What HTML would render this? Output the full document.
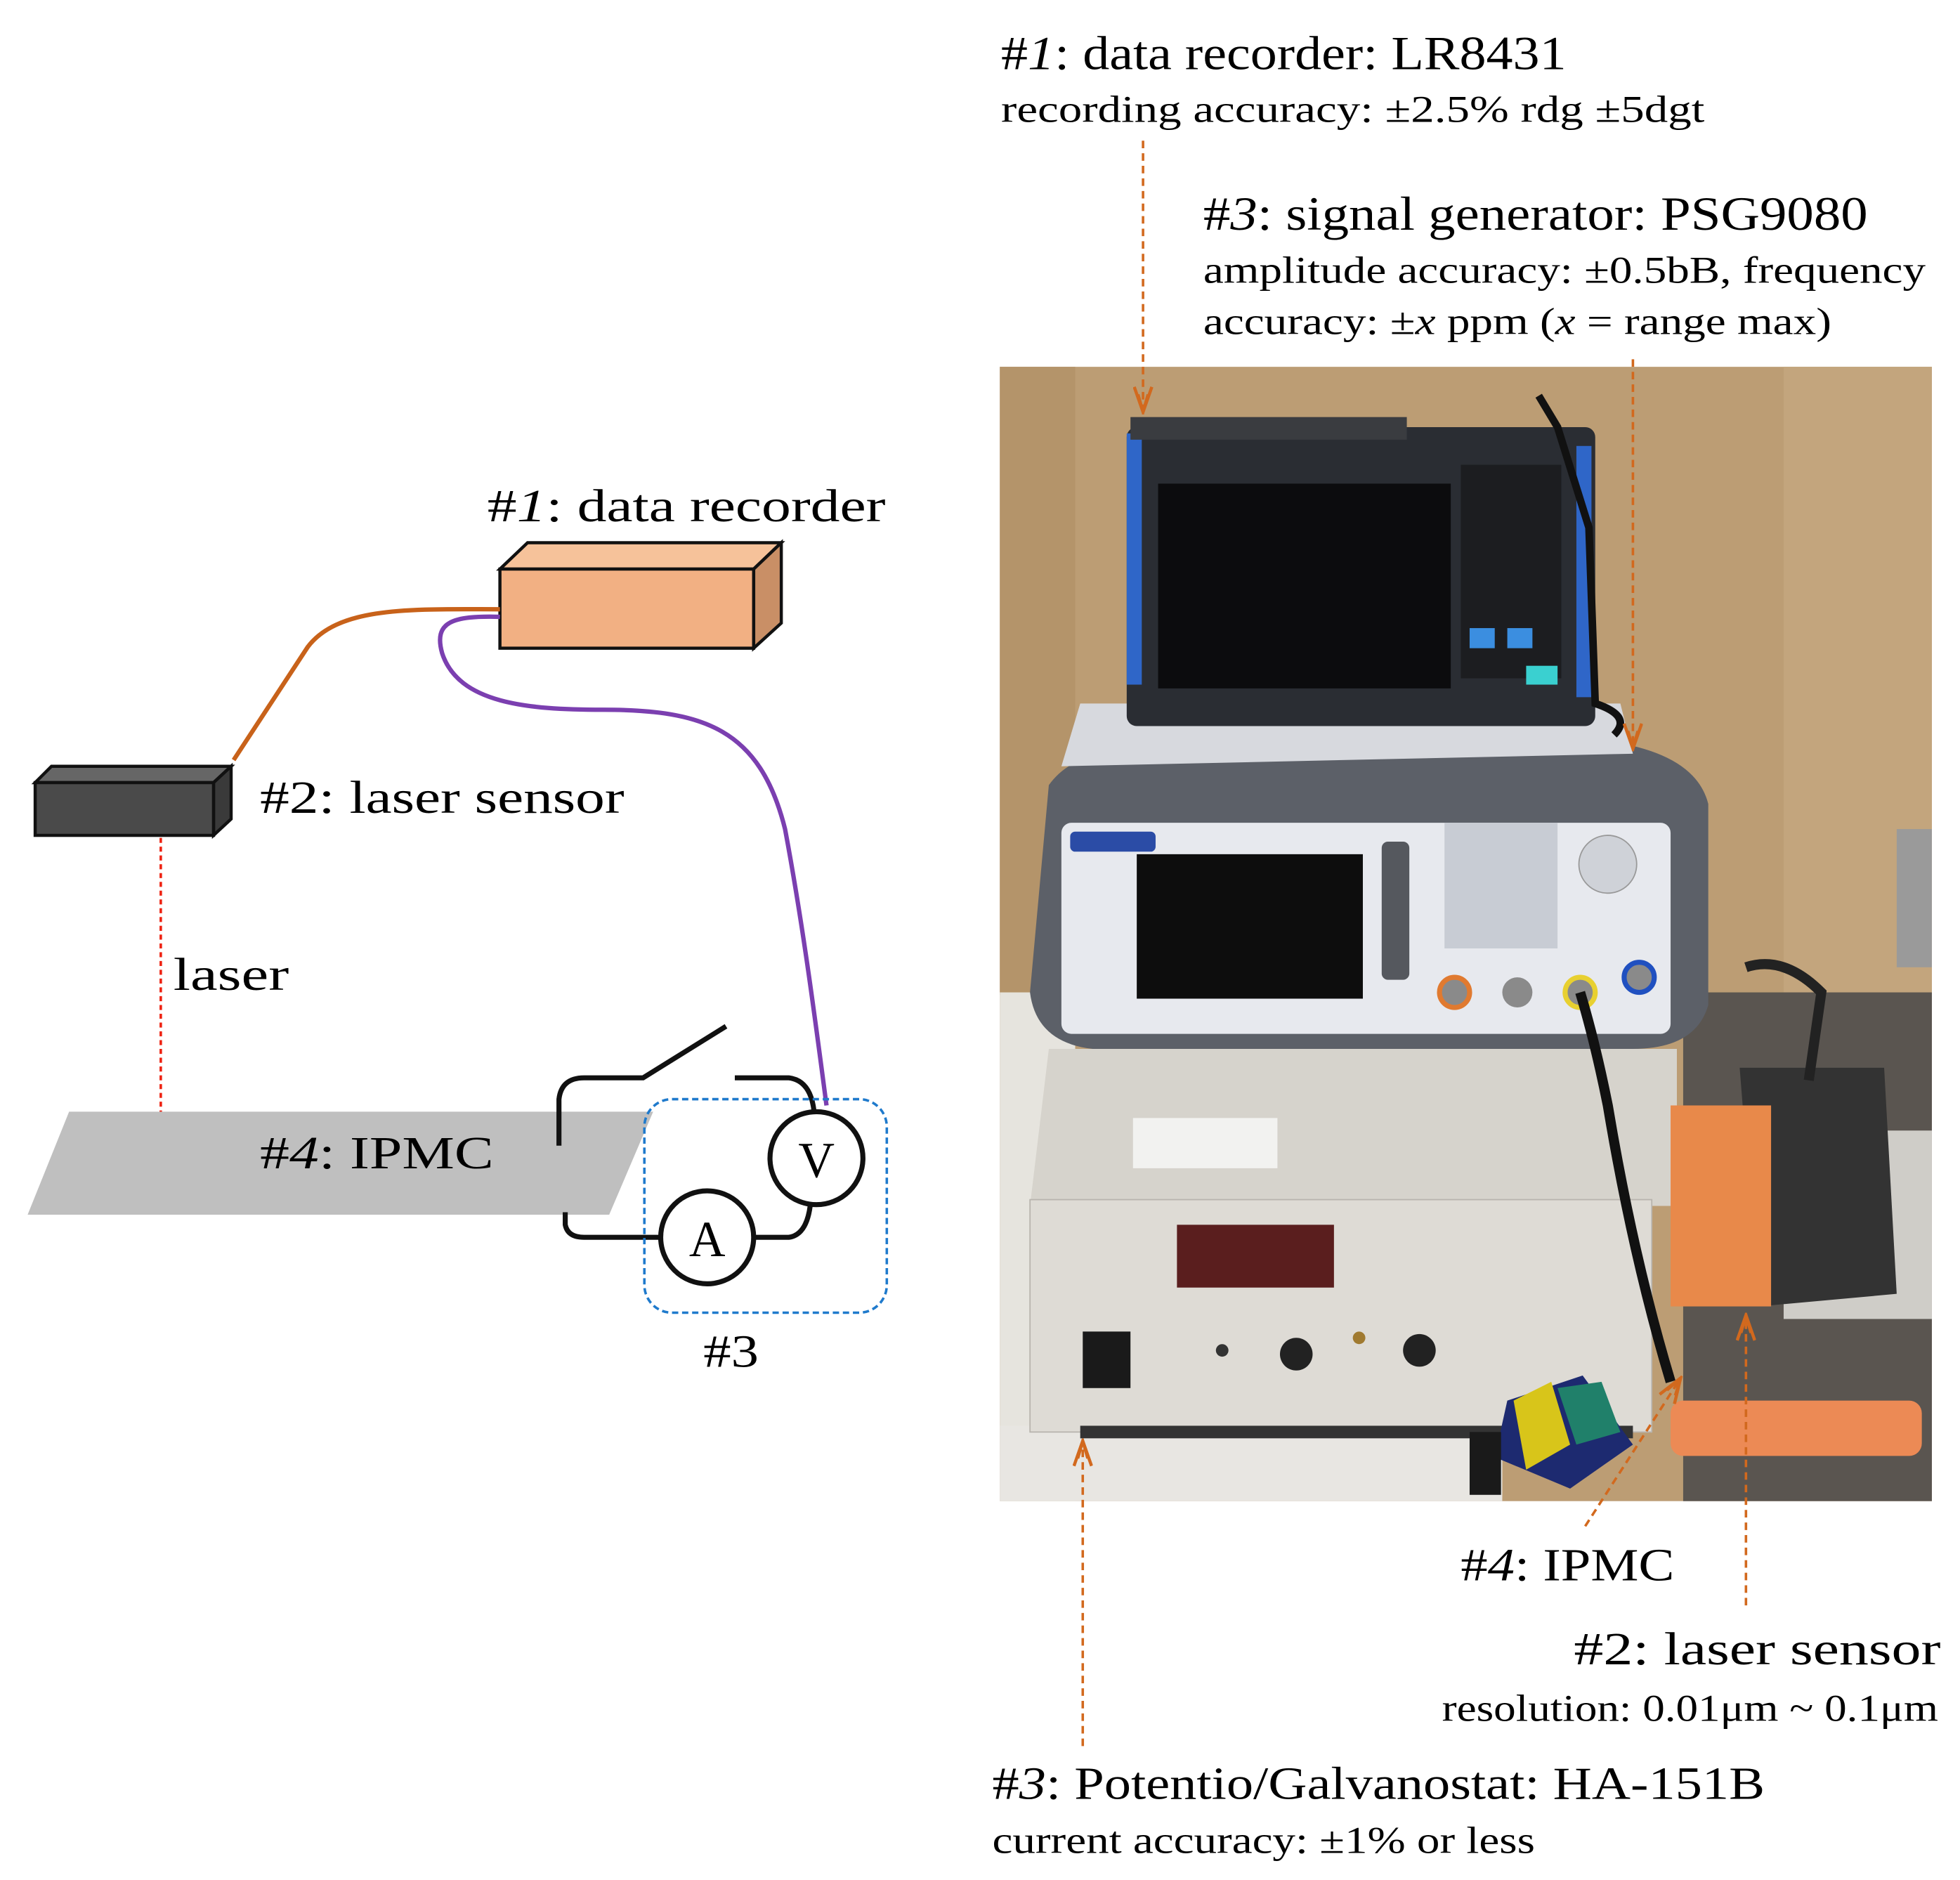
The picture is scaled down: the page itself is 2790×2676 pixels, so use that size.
<!DOCTYPE html>
<html><head><meta charset="utf-8"><style>html,body{margin:0;padding:0;background:#fff;}svg{display:block;font-family:"Liberation Serif",serif}</style></head>
<body>
<svg xmlns="http://www.w3.org/2000/svg" width="2790" height="2676" viewBox="0 0 1560.4 1496.6">
<defs>
<marker id="ah" markerWidth="24" markerHeight="16" refX="22" refY="8" orient="auto" markerUnits="userSpaceOnUse"><path d="M2,1 L22,8 L2,15 M8,4 L22,8 L8,12" fill="none" stroke="#d2691e" stroke-width="2.5"/></marker>
</defs>
<!-- LEFT DIAGRAM -->
<text x="388" y="415" font-size="37" textLength="317" lengthAdjust="spacingAndGlyphs">#<tspan font-style="italic">1</tspan>:  data recorder</text>
<polygon points="398,453 420,432 622,432 600,453" fill="#f6c29a" stroke="#111" stroke-width="2.5"/>
<polygon points="600,453 622,432 622,496 600,516" fill="#c98f66" stroke="#111" stroke-width="2.5"/>
<rect x="398" y="453" width="202" height="63" fill="#f2b083" stroke="#111" stroke-width="2.5"/>
<polygon points="28,623 41,610 184,610 170,623" fill="#666" stroke="#111" stroke-width="2.5"/>
<polygon points="170,623 184,610 184,652 170,665" fill="#3a3a3a" stroke="#111" stroke-width="2.5"/>
<rect x="28" y="623" width="142" height="42" fill="#4a4a4a" stroke="#111" stroke-width="2.5"/>
<text x="207" y="647" font-size="37" textLength="290" lengthAdjust="spacingAndGlyphs">#2: laser sensor</text>
<path d="M398,485 C330,485 270,482 245,515 L186,605" fill="none" stroke="#c8621a" stroke-width="3.5"/>
<path d="M398,491 C360,490 345,495 352,520 C365,560 420,565 480,565 C560,565 605,580 625,660 C640,740 650,820 658,880" fill="none" stroke="#7b3fb0" stroke-width="3.5"/>
<line x1="128" y1="667" x2="128" y2="920" stroke="#e21" stroke-width="2" stroke-dasharray="4,3"/>
<text x="138" y="788" font-size="37" textLength="92" lengthAdjust="spacingAndGlyphs">laser</text>
<polygon points="55,885 520,885 485,967 22,967" fill="#bfbfbf"/>
<text x="207" y="930" font-size="37" textLength="186" lengthAdjust="spacingAndGlyphs">#<tspan font-style="italic">4</tspan>: IPMC</text>
<path d="M445,912 L445,875 Q447,858 465,858 L512,858 L578,817" fill="none" stroke="#111" stroke-width="4"/>
<path d="M585,858 L628,858 Q645,860 648,884" fill="none" stroke="#111" stroke-width="4"/>
<path d="M450,965 L450,975 Q452,985 465,985 L525,985" fill="none" stroke="#111" stroke-width="4"/>
<path d="M601,985 L628,985 Q642,983 645,960" fill="none" stroke="#111" stroke-width="4"/>
<rect x="513" y="875" width="193" height="170" rx="22" fill="none" stroke="#1f7acc" stroke-width="2" stroke-dasharray="5,3"/>
<circle cx="650" cy="922" r="37" fill="#fff" stroke="#111" stroke-width="4"/>
<text x="650" y="937" font-size="40" text-anchor="middle">V</text>
<circle cx="563" cy="985" r="37" fill="#fff" stroke="#111" stroke-width="4"/>
<text x="563" y="1000" font-size="40" text-anchor="middle">A</text>
<text x="560" y="1088" font-size="37" textLength="44" lengthAdjust="spacingAndGlyphs">#3</text>

<!-- RIGHT TEXT -->
<text x="797" y="55" font-size="38" textLength="450" lengthAdjust="spacingAndGlyphs">#<tspan font-style="italic">1</tspan>: data recorder: LR8431</text>
<text x="797" y="97" font-size="30" textLength="560" lengthAdjust="spacingAndGlyphs">recording accuracy: ±2.5% rdg  ±5dgt</text>
<text x="958" y="183" font-size="38" textLength="529" lengthAdjust="spacingAndGlyphs">#<tspan font-style="italic">3</tspan>: signal generator: PSG9080</text>
<text x="958" y="225" font-size="30" textLength="575" lengthAdjust="spacingAndGlyphs">amplitude accuracy: ±0.5bB, frequency</text>
<text x="958" y="266" font-size="30" textLength="500" lengthAdjust="spacingAndGlyphs">accuracy: ±<tspan font-style="italic">x</tspan> ppm (<tspan font-style="italic">x</tspan> = range max)</text>

<!-- PHOTO -->
<rect x="796" y="292" width="742" height="903" fill="#bc9d74"/>
<rect x="1420" y="292" width="118" height="500" fill="#c3a57d"/>
<rect x="796" y="292" width="60" height="500" fill="#b4946a"/>
<rect x="1340" y="790" width="198" height="405" fill="#5a5550"/>
<rect x="1420" y="900" width="118" height="150" fill="#cfcdc8"/>
<rect x="1510" y="660" width="28" height="110" fill="#9a9a9a"/>
<rect x="796" y="790" width="60" height="405" fill="#e6e4de"/>
<rect x="796" y="1135" width="400" height="60" fill="#e8e6e2"/>
<polygon points="835,835 1335,835 1335,960 820,960" fill="#d6d3cc"/>
<rect x="820" y="955" width="495" height="185" fill="#dedbd5" stroke="#b8b4ae"/>
<rect x="937" y="975" width="125" height="50" fill="#5a1e1e"/>
<rect x="902" y="890" width="115" height="40" fill="#f2f2f0"/>
<rect x="862" y="1060" width="38" height="45" fill="#1a1a1a"/>
<circle cx="1032" cy="1078" r="13" fill="#222"/>
<circle cx="1130" cy="1075" r="13" fill="#222"/>
<circle cx="973" cy="1075" r="5" fill="#333"/>
<circle cx="1082" cy="1065" r="5" fill="#a07a30"/>
<rect x="860" y="1135" width="440" height="10" fill="#333"/>
<path d="M835,625 Q860,590 930,600 L1280,590 Q1350,600 1360,640 L1360,800 Q1350,835 1300,835 L870,835 Q825,830 820,790 Z" fill="#5c6068"/>
<polygon points="860,560 1290,560 1300,600 845,610" fill="#d7d9de"/>
<rect x="845" y="655" width="485" height="168" rx="8" fill="#e7e9ee"/>
<rect x="905" y="680" width="180" height="115" fill="#0d0d0d"/>
<rect x="852" y="662" width="68" height="16" rx="4" fill="#2b4ca6"/>
<rect x="1150" y="655" width="90" height="100" fill="#c8ccd4"/>
<circle cx="1280" cy="688" r="23" fill="#cfd2d8" stroke="#999"/>
<rect x="1100" y="670" width="22" height="110" rx="5" fill="#55585e"/>
<circle cx="1158" cy="790" r="12" fill="#8a8a8a" stroke="#e07a30" stroke-width="4"/>
<circle cx="1208" cy="790" r="12" fill="#8a8a8a"/>
<circle cx="1258" cy="790" r="12" fill="#8a8a8a" stroke="#e8d030" stroke-width="4"/>
<circle cx="1305" cy="778" r="12" fill="#8a8a8a" stroke="#2050c0" stroke-width="4"/>
<rect x="897" y="340" width="373" height="238" rx="8" fill="#2a2d33"/>
<rect x="897" y="345" width="12" height="200" fill="#2f66c8"/>
<rect x="1255" y="355" width="12" height="200" fill="#2f66c8"/>
<rect x="922" y="385" width="233" height="163" fill="#0c0c0e"/>
<rect x="900" y="332" width="220" height="18" fill="#3a3c40"/>
<rect x="1163" y="370" width="80" height="170" fill="#1c1d20"/>
<rect x="1170" y="500" width="20" height="16" fill="#3b8ee0"/>
<rect x="1200" y="500" width="20" height="16" fill="#3b8ee0"/>
<rect x="1215" y="530" width="25" height="15" fill="#3ad0d0"/>
<path d="M1225,315 L1240,340 L1265,420 L1270,560 Q1300,570 1285,585" fill="none" stroke="#111" stroke-width="6"/>
<path d="M1258,790 Q1270,830 1280,880 Q1300,1000 1330,1100" fill="none" stroke="#111" stroke-width="8"/>
<polygon points="1385,850 1500,850 1510,1030 1400,1040" fill="#333"/>
<rect x="1330" y="880" width="80" height="160" fill="#e8894a"/>
<path d="M1390,770 Q1420,760 1450,790 L1440,860" fill="none" stroke="#222" stroke-width="8"/>
<rect x="1330" y="1115" width="200" height="44" rx="10" fill="#ec8a55"/>
<polygon points="1200,1115 1260,1095 1300,1150 1250,1185 1190,1160" fill="#1d2a70"/>
<polygon points="1205,1115 1235,1100 1250,1150 1215,1170" fill="#d8c51a"/>
<polygon points="1240,1105 1275,1100 1290,1140 1255,1150" fill="#20806a"/>
<rect x="1170" y="1140" width="25" height="50" fill="#1a1a1a"/>

<!-- ORANGE LEADER ARROWS -->
<line x1="910" y1="112" x2="910" y2="328" stroke="#d2691e" stroke-width="2" stroke-dasharray="6,4" marker-end="url(#ah)"/>
<line x1="1300" y1="286" x2="1300" y2="596" stroke="#d2691e" stroke-width="2" stroke-dasharray="6,4" marker-end="url(#ah)"/>
<line x1="862" y1="1390" x2="862" y2="1147" stroke="#d2691e" stroke-width="2" stroke-dasharray="6,4" marker-end="url(#ah)"/>
<line x1="1390" y1="1278" x2="1390" y2="1047" stroke="#d2691e" stroke-width="2" stroke-dasharray="6,4" marker-end="url(#ah)"/>
<line x1="1262" y1="1215" x2="1338" y2="1097" stroke="#d2691e" stroke-width="2" stroke-dasharray="6,4" marker-end="url(#ah)"/>

<text x="1163" y="1258" font-size="37" textLength="170" lengthAdjust="spacingAndGlyphs">#<tspan font-style="italic">4</tspan>: IPMC</text>
<text x="1253" y="1325" font-size="37" textLength="292" lengthAdjust="spacingAndGlyphs">#2: laser sensor</text>
<text x="1148" y="1370" font-size="30" textLength="395" lengthAdjust="spacingAndGlyphs">resolution: 0.01μm ~ 0.1μm</text>
<text x="790" y="1432" font-size="37" textLength="615" lengthAdjust="spacingAndGlyphs">#<tspan font-style="italic">3</tspan>: Potentio/Galvanostat: HA-151B</text>
<text x="790" y="1475" font-size="30" textLength="432" lengthAdjust="spacingAndGlyphs">current accuracy: ±1% or less</text>
</svg>
</body></html>
